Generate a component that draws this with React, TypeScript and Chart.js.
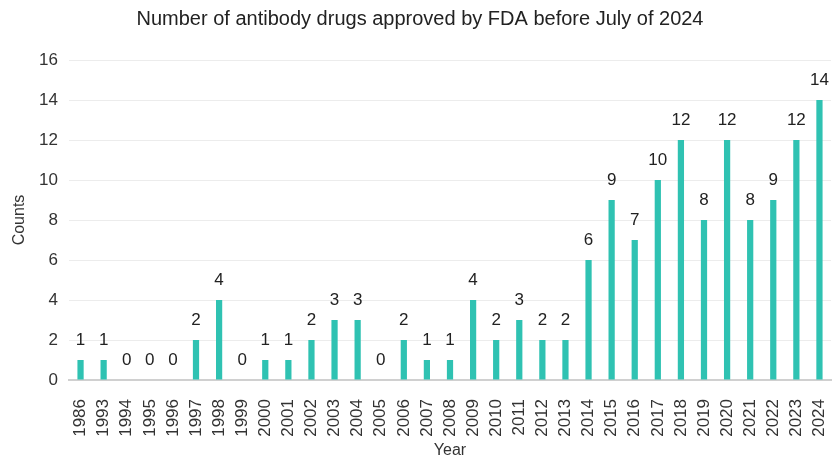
import React, { useEffect, useRef } from "react";
import { Chart, registerables } from "chart.js";

Chart.register(...registerables);

const years = ["1986","1993","1994","1995","1996","1997","1998","1999","2000","2001","2002","2003","2004","2005","2006","2007","2008","2009","2010","2011","2012","2013","2014","2015","2016","2017","2018","2019","2020","2021","2022","2023","2024"];
const counts = [1,1,0,0,0,2,4,0,1,1,2,3,3,0,2,1,1,4,2,3,2,2,6,9,7,10,12,8,12,8,9,12,14];

const FONT = "'Liberation Sans', Arial, sans-serif";

const labelPlugin = {
  id: "barLabels",
  afterDatasetsDraw(chart: any) {
    const ctx = chart.ctx;
    const meta = chart.getDatasetMeta(0);
    ctx.save();
    ctx.font = `17px ${FONT}`;
    ctx.fillStyle = "#222";
    ctx.textAlign = "center";
    ctx.textBaseline = "alphabetic";
    meta.data.forEach((bar: any, i: number) => {
      ctx.fillText(String(counts[i]), bar.x, bar.y - 15);
    });
    ctx.restore();
  },
};

export default function App() {
  const ref = useRef<HTMLCanvasElement>(null);
  useEffect(() => {
    document.body.style.margin = "0";
    const chart = new Chart(ref.current!, {
      type: "bar",
      data: {
        labels: years,
        datasets: [{ data: counts, backgroundColor: "#2FC2B2", barPercentage: 0.27, categoryPercentage: 1 }],
      },
      options: {
        animation: false,
        responsive: false,
        layout: { padding: { left: 0, right: 0, top: 0, bottom: 0 } },
        plugins: {
          legend: { display: false },
          tooltip: { enabled: false },
          title: {
            display: true,
            text: "Number of antibody drugs approved by FDA before July of 2024",
            font: { family: FONT, size: 20, weight: "normal" },
            color: "#222",
            padding: { top: 7, bottom: 29 },
          },
        },
        scales: {
          x: {
            grid: { display: false },
            border: { color: "#d0d0d0", width: 2 },
            ticks: { color: "#333", font: { family: FONT, size: 17 }, maxRotation: 90, minRotation: 90, autoSkip: false, padding: 11 },
            title: { display: true, text: "Year", color: "#333", font: { family: FONT, size: 16 }, padding: { top: 0, bottom: 0 } },
            afterFit: (s: any) => { s.height = 80; s.paddingRight = 9; s.paddingLeft = 0; },
          },
          y: {
            min: 0,
            max: 16,
            ticks: { stepSize: 2, color: "#333", font: { family: FONT, size: 17 }, padding: 11 },
            grid: { color: "#ececec", drawTicks: false },
            border: { display: false },
            title: { display: true, text: "Counts", color: "#333", font: { family: FONT, size: 16 }, padding: { top: 10, bottom: 0 } },
            afterFit: (s: any) => { s.width = 69; },
          },
        },
      },
      plugins: [labelPlugin],
    });
    return () => chart.destroy();
  }, []);
  return (
    <div style={{ width: 840, height: 460, background: "#fff" }}>
      <canvas ref={ref} width={840} height={460} />
    </div>
  );
}
